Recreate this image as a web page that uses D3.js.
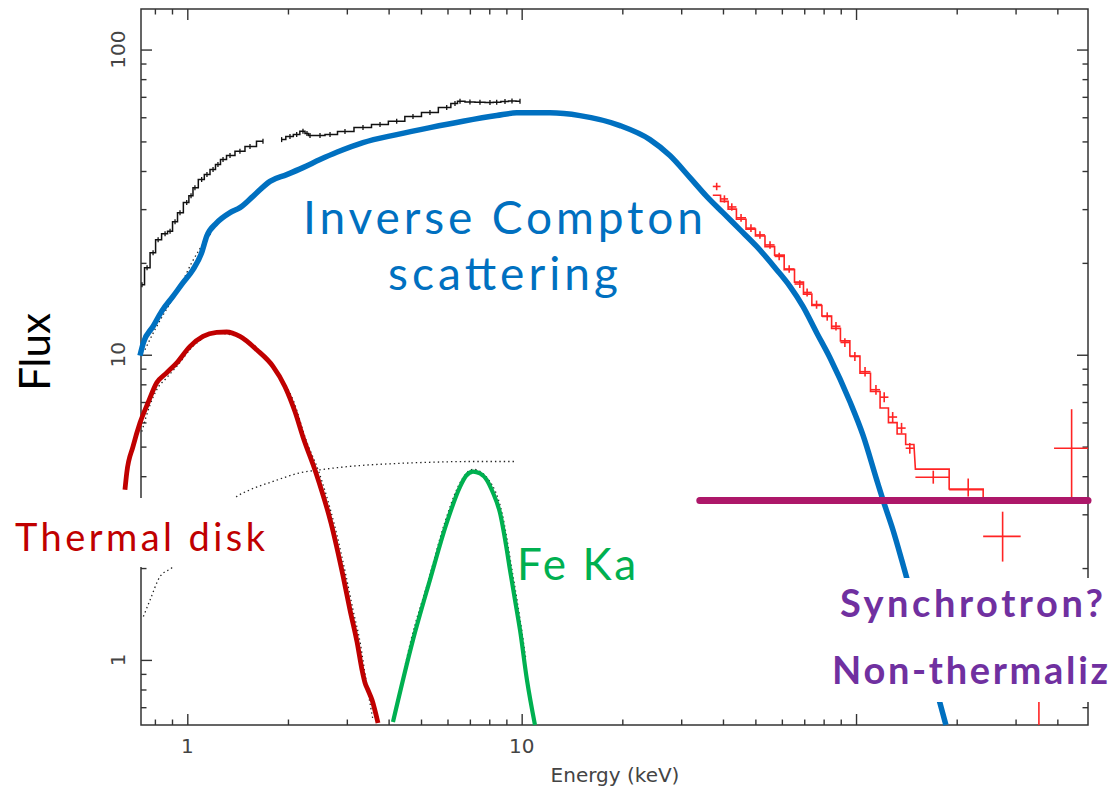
<!DOCTYPE html>
<html>
<head>
<meta charset="utf-8">
<script src="https://cdn.jsdelivr.net/npm/d3@7"></script>
<style>
  html, body { margin: 0; padding: 0; background: #fff; }
  svg { display: block; }
</style>
</head>
<body>
<svg id="chart" width="1112" height="787"></svg>
<script>
// ---- Axis ticks ----
const xMajor = [1, 10, 100];
const xMinor = [0.8, 0.9, 2, 3, 4, 5, 6, 7, 8, 9, 20, 30, 40, 50, 60, 70, 80, 90, 200, 300, 400];
const xLabels = [1, 10];
const yMajor = [1, 10, 100];
const yMinor = [0.7, 0.8, 0.9, 2, 3, 4, 5, 6, 7, 8, 9, 20, 30, 40, 50, 60, 70, 80, 90];
const yLabels = [1, 10, 100];

// ---- Soft X-ray spectrum (black), two detector segments ----
const softLowE = [0.732, 0.758, 0.790, 0.818, 0.858, 0.888, 0.919, 0.951, 0.996, 1.026, 1.054, 1.104, 1.145, 1.194, 1.235, 1.279, 1.342, 1.437, 1.540, 1.684];
const softLowF = [16.96, 19.28, 21.60, 23.83, 24.93, 25.37, 27.29, 29.21, 31.51, 33.21, 35.28, 37.49, 38.93, 40.43, 41.98, 43.59, 44.94, 46.42, 48.08, 50.04];
const softHighE = [1.915, 2.028, 2.124, 2.218, 2.280, 2.328, 2.494, 2.672, 2.962, 3.353, 3.770, 4.229, 4.731, 5.318, 5.968, 6.318, 6.540, 7.004, 7.504, 8.039, 8.420, 8.915, 9.355, 9.886];
const softHighF = [50.69, 51.86, 52.65, 53.98, 53.05, 52.24, 52.24, 52.65, 53.84, 55.50, 56.77, 58.21, 60.30, 62.14, 64.53, 66.53, 67.69, 67.29, 67.18, 67.03, 67.18, 67.54, 67.79, 67.69];

// ---- Hard X-ray spectrum (red): narrow bins ----
const hardE = [38.3, 40.4, 42.5, 45.3, 48.5, 51.6, 55.3, 58.9, 63.1, 67.9, 71.4, 76.2, 82.0, 87.1, 92.6, 99.2, 106.4, 114.7, 121.4, 128.7, 136.8, 144.8];
const hardF = [35.6, 32.4, 30.5, 28.1, 26.0, 24.7, 22.9, 21.0, 19.1, 17.05, 16.0, 14.6, 13.35, 12.4, 10.97, 9.87, 8.8, 7.68, 7.26, 6.25, 5.75, 4.94];
const hardErr = [1.0, 0.9, 0.85, 0.8, 0.75, 0.7, 0.65, 0.6, 0.55, 0.5, 0.48, 0.45, 0.42, 0.4, 0.36, 0.34, 0.31, 0.28, 0.27, 0.24, 0.23, 0.2];
const hardModel = [33.3, 31.8, 30.0, 27.8, 25.8, 24.5, 22.6, 21.2, 19.0, 17.3, 15.8, 14.5, 13.4, 12.2, 11.1, 9.9, 8.7, 7.58, 6.69, 5.99, 5.5, 5.08];

// ---- Hard X-ray spectrum (red): wide bins ----
const wideE = [170.2, 216.5, 274.4, 441.3, 352.3];
const wideLo = [150.5, 189.9, 240.0, 391, 320];
const wideHi = [189.9, 240.0, 310.7, 494, 390];
const wideF = [3.97, 3.61, 2.54, 4.94, 0.45];
const wideFLo = [3.78, 3.43, 2.10, 3.41, 0.30];
const wideFHi = [4.17, 3.93, 3.06, 6.63, 0.80];
const wideModel = [4.22, 3.63];
const wideModelTail = 3.35;

// ---- Model components ----
const comptonE = [0.722, 0.739, 0.790, 0.838, 0.906, 0.971, 1.040, 1.104, 1.143, 1.224, 1.342, 1.437, 1.572, 1.767, 1.983, 2.218, 2.494, 2.798, 3.353, 4.229, 5.318, 6.675, 8.420, 9.661, 12.15, 14.94, 19.68, 24.19, 27.76, 31.87, 35.74, 39.99, 44.96, 50.44, 57.88, 63.44, 69.37, 76.25, 83.56, 95.90, 104.9, 115.3, 120.3, 128.9, 136.9, 147.0, 157.4, 167.5, 178.2, 185.7];
const comptonF = [9.93, 10.95, 12.38, 13.87, 15.53, 17.22, 19.00, 21.60, 24.43, 27.03, 29.21, 30.34, 33.04, 37.00, 38.93, 41.03, 43.59, 46.06, 49.55, 52.65, 55.50, 58.21, 60.76, 62.02, 62.02, 60.76, 56.34, 50.69, 44.94, 38.05, 33.04, 29.21, 25.70, 22.65, 19.00, 16.75, 14.40, 11.81, 9.78, 7.01, 5.45, 3.89, 3.35, 2.67, 2.13, 1.61, 1.217, 0.934, 0.723, 0.612];
const comptonModelE = [0.747, 0.800, 0.858, 0.951, 1.031, 1.091, 1.186];
const comptonModelF = [10.38, 12.08, 13.84, 16.71, 20.03, 22.26, 25.31];

const diskE = [0.651, 0.659, 0.688, 0.722, 0.763, 0.810, 0.868, 0.930, 1.019, 1.114, 1.224, 1.311, 1.437, 1.613, 1.804, 1.960, 2.100, 2.218, 2.426, 2.690, 2.922, 3.066, 3.218, 3.331, 3.400, 3.470, 3.567, 3.718];
const diskF = [3.61, 4.10, 5.00, 5.98, 6.96, 8.09, 8.73, 9.41, 10.65, 11.48, 11.83, 11.87, 11.48, 10.38, 9.16, 7.86, 6.50, 5.38, 4.10, 2.81, 1.886, 1.458, 1.146, 0.927, 0.841, 0.797, 0.740, 0.621];
const diskModelE = [0.731, 0.774, 0.810, 0.868, 0.930, 1.040, 1.224, 1.437, 1.650, 1.893, 2.071, 2.265, 2.480, 2.745, 2.983, 3.130, 3.285, 3.423, 3.592];
const diskModelF = [5.60, 6.86, 7.68, 8.41, 9.16, 10.65, 11.76, 11.41, 10.15, 8.47, 7.12, 5.26, 4.10, 2.81, 1.886, 1.458, 1.146, 0.860, 0.636];

const ironE = [4.122, 4.731, 5.318, 5.968, 6.540, 6.816, 7.152, 7.504, 7.859, 8.208, 8.612, 8.977, 9.226, 9.550, 9.886, 10.37, 10.96];
const ironF = [0.626, 1.163, 1.83, 2.813, 3.692, 4.01, 4.143, 4.087, 3.892, 3.528, 3.034, 2.382, 1.973, 1.573, 1.254, 0.860, 0.612];
const ironModelE = [4.325, 4.667, 5.245, 5.886, 6.450, 7.152, 7.968, 8.732, 9.355, 9.683, 10.02, 10.30];
const ironModelF = [0.797, 1.163, 1.80, 2.813, 3.692, 4.213, 3.892, 3.034, 1.973, 1.573, 1.236, 1.0];

const reflE = [0.739, 0.774, 0.829, 0.898, 1.130, 1.405, 1.540, 1.804, 2.173, 2.494, 3.211, 4.039, 5.069, 7.152, 9.661];
const reflF = [1.387, 1.573, 1.876, 2.002, 2.669, 3.431, 3.61, 3.843, 4.104, 4.198, 4.326, 4.392, 4.436, 4.469, 4.469];

const synchE = [34.1, 494];
const synchF = [3.33, 3.33];

// ---- Layout ----
const W = 1112, H = 787;
const plot = { left: 141, right: 1088, top: 9, bottom: 725 };
const x = d3.scaleLog().domain([0.727, 494]).range([plot.left, plot.right]);
const y = d3.scaleLog().domain([0.612, 135.8]).range([plot.bottom, plot.top]);

const svg = d3.select("#chart");
svg.append("rect").attr("width", W).attr("height", H).attr("fill", "#fff");

svg.append("defs").append("clipPath").attr("id", "plotClip")
  .append("rect")
  .attr("x", plot.left).attr("y", plot.top)
  .attr("width", plot.right - plot.left).attr("height", plot.bottom - plot.top);

const axisColor = "#333";
const zip = (a, b) => a.map((v, i) => [v, b[i]]);

// Inward ticks on all four sides
function ticks(gen, transform, values, size) {
  const g = svg.append("g").attr("transform", transform)
    .call(gen.tickValues(values).tickSize(size).tickFormat(""));
  g.select(".domain").remove();
  g.selectAll("line").attr("stroke", axisColor).attr("stroke-width", 1.4);
}
ticks(d3.axisBottom(x), `translate(0,${plot.bottom})`, xMajor, -11);
ticks(d3.axisBottom(x), `translate(0,${plot.bottom})`, xMinor, -5.5);
ticks(d3.axisTop(x), `translate(0,${plot.top})`, xMajor, -11);
ticks(d3.axisTop(x), `translate(0,${plot.top})`, xMinor, -5.5);
ticks(d3.axisLeft(y), `translate(${plot.left},0)`, yMajor, -11);
ticks(d3.axisLeft(y), `translate(${plot.left},0)`, yMinor, -5.5);
ticks(d3.axisRight(y), `translate(${plot.right},0)`, yMajor, -11);
ticks(d3.axisRight(y), `translate(${plot.right},0)`, yMinor, -5.5);

svg.append("rect")
  .attr("x", plot.left).attr("y", plot.top)
  .attr("width", plot.right - plot.left).attr("height", plot.bottom - plot.top)
  .attr("fill", "none").attr("stroke", axisColor).attr("stroke-width", 1.5);

// Tick labels
const tickFont = "'DejaVu Sans', sans-serif";
svg.append("g").selectAll("text").data(xLabels).join("text")
  .attr("x", d => x(d)).attr("y", 753)
  .attr("text-anchor", "middle")
  .attr("font-family", tickFont).attr("font-size", 20).attr("fill", "#444")
  .text(d => d);
svg.append("g").selectAll("text").data(yLabels).join("text")
  .attr("transform", d => `translate(125,${y(d)}) rotate(-90)`)
  .attr("text-anchor", "middle")
  .attr("font-family", tickFont).attr("font-size", 20).attr("fill", "#444")
  .text(d => d);
svg.append("text")
  .attr("x", 615).attr("y", 782).attr("text-anchor", "middle")
  .attr("font-family", tickFont).attr("font-size", 20).attr("fill", "#444")
  .text("Energy (keV)");

const annFont = "Lato, 'Open Sans', sans-serif";
svg.append("text")
  .attr("transform", "translate(50,352) rotate(-90)")
  .attr("text-anchor", "middle")
  .attr("font-family", annFont).attr("font-size", 42).attr("fill", "#000")
  .text("Flux");

// ---- Marks ----
const lineXY = d3.line().x(d => x(d[0])).y(d => y(d[1]));
const smooth = d3.line().x(d => x(d[0])).y(d => y(d[1])).curve(d3.curveMonotoneX);
const stepLine = d3.line().x(d => x(d[0])).y(d => y(d[1])).curve(d3.curveStep);

const clipped = svg.append("g").attr("clip-path", "url(#plotClip)");

// dotted model components
const dotted = (E, F) => clipped.append("path")
  .attr("d", smooth(zip(E, F)))
  .attr("fill", "none").attr("stroke", "#222")
  .attr("stroke-width", 1.3).attr("stroke-dasharray", "1.4,3");
dotted(reflE, reflF);
dotted(diskModelE, diskModelF);
dotted(ironModelE, ironModelF);
dotted(comptonModelE, comptonModelF);

// soft X-ray data: stepped histogram with small bin markers
[[softLowE, softLowF], [softHighE, softHighF]].forEach(([E, F]) => {
  const pts = zip(E, F);
  clipped.append("path").attr("d", stepLine(pts))
    .attr("fill", "none").attr("stroke", "#111").attr("stroke-width", 1.5);
  clipped.append("g").selectAll("line").data(pts).join("line")
    .attr("x1", d => x(d[0])).attr("x2", d => x(d[0]))
    .attr("y1", d => y(d[1]) - 2.5).attr("y2", d => y(d[1]) + 2.5)
    .attr("stroke", "#111").attr("stroke-width", 1.3);
});

// hard X-ray data
const red = "#ff2424";
const hardBins = hardE.map((e, i) => {
  const lo = i === 0 ? e * Math.sqrt(e / hardE[1]) : Math.sqrt(hardE[i - 1] * e);
  const hi = i === hardE.length - 1 ? e * Math.sqrt(e / hardE[i - 1]) : Math.sqrt(e * hardE[i + 1]);
  return { e, lo, hi, f: hardF[i], fLo: hardF[i] - hardErr[i], fHi: hardF[i] + hardErr[i], m: hardModel[i] };
});
const wideBins = wideE.map((e, i) => ({
  e, lo: wideLo[i], hi: wideHi[i], f: wideF[i], fLo: wideFLo[i], fHi: wideFHi[i], m: wideModel[i]
}));

const modelPts = [];
hardBins.concat(wideBins).forEach(b => {
  if (b.m !== undefined) { modelPts.push([b.lo, b.m]); modelPts.push([b.hi, b.m]); }
});
modelPts.push([wideBins[1].hi, wideModelTail]);
clipped.append("path").attr("d", lineXY(modelPts))
  .attr("fill", "none").attr("stroke", red).attr("stroke-width", 1.6);

const crosses = clipped.append("g").attr("stroke", red).attr("stroke-width", 1.6);
hardBins.concat(wideBins).forEach(b => {
  crosses.append("line")
    .attr("x1", x(b.lo)).attr("x2", x(b.hi)).attr("y1", y(b.f)).attr("y2", y(b.f));
  crosses.append("line")
    .attr("x1", x(b.e)).attr("x2", x(b.e)).attr("y1", y(b.fLo)).attr("y2", y(b.fHi));
});

// spectral components
svg.append("path").attr("d", smooth(zip(comptonE, comptonF)))
  .attr("fill", "none").attr("stroke", "#0070c0").attr("stroke-width", 5.5)
  .attr("stroke-linejoin", "round");
svg.append("path").attr("d", smooth(zip(diskE, diskF)))
  .attr("fill", "none").attr("stroke", "#c00000").attr("stroke-width", 4.8)
  .attr("stroke-linejoin", "round");
svg.append("path").attr("d", smooth(zip(ironE, ironF)))
  .attr("fill", "none").attr("stroke", "#00b050").attr("stroke-width", 4.2)
  .attr("stroke-linejoin", "round");
svg.append("path").attr("d", lineXY(zip(synchE, synchF)))
  .attr("fill", "none").attr("stroke", "#ad1769").attr("stroke-width", 7)
  .attr("stroke-linecap", "round");

// ---- Annotations (white boxes behind text) ----
svg.append("rect").attr("x", 4).attr("y", 498).attr("width", 276).attr("height", 69).attr("fill", "#fff");
svg.append("rect").attr("x", 826).attr("y", 578).attr("width", 290).attr("height", 124).attr("fill", "#fff");

function label(txt, xPos, yPos, size, color, width, weight) {
  const t = svg.append("text")
    .attr("x", xPos).attr("y", yPos)
    .attr("font-family", annFont).attr("font-size", size)
    .attr("font-weight", weight || 400)
    .attr("fill", color).text(txt);
  if (width) t.attr("textLength", width).attr("lengthAdjust", "spacing");
  return t;
}
label("Inverse Compton", 303, 234, 46, "#0070c0", 400);
label("scattering", 388, 290, 46, "#0070c0", 230);
label("Thermal disk", 15, 551, 38, "#c00000", 250);
label("Fe Ka", 517, 580, 44, "#00b050", 119);
label("Synchrotron?", 840, 617, 38, "#7030a0", 263, 700);
label("Non-thermaliz", 832, 684, 38, "#7030a0", 276, 700);
</script>
</body>
</html>
